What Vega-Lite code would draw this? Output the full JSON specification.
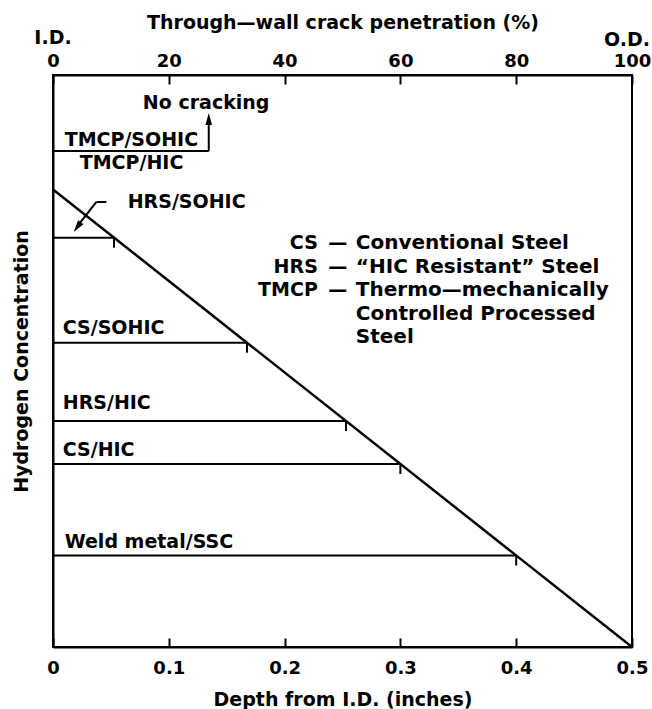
{
  "$schema": "https://vega.github.io/schema/vega-lite/v6.json",
  "width": 579,
  "height": 572,
  "autosize": {"type": "none"},
  "padding": {"left": 53, "top": 75, "right": 20, "bottom": 62},
  "background": "white",
  "config": {
    "view": {"stroke": "black", "strokeWidth": 2},
    "axis": {
      "grid": false,
      "domainColor": "black",
      "domainWidth": 2,
      "tickColor": "black",
      "tickWidth": 2,
      "labelColor": "black",
      "labelFont": "DejaVu Sans",
      "labelFontWeight": "bold",
      "labelFontSize": 18,
      "titleColor": "black",
      "titleFont": "DejaVu Sans",
      "titleFontWeight": "bold",
      "titleFontSize": 19,
      "labelFlush": false,
      "labelOverlap": false
    }
  },
  "datasets": {
    "segs": [
      {"d": 0, "c": 0.8, "d2": 0.5, "c2": 0, "w": 2.5},
      {"d": 0, "c": 0.867, "d2": 0.1345, "c2": 0.867, "w": 2},
      {"d": 0.1345, "c": 0.867, "d2": 0.1345, "c2": 0.915, "w": 2},
      {"d": 0, "c": 0.7156, "d2": 0.0527, "c2": 0.7156, "w": 2},
      {"d": 0.0527, "c": 0.7156, "d2": 0.0527, "c2": 0.698, "w": 2},
      {"d": 0, "c": 0.532, "d2": 0.1675, "c2": 0.532, "w": 2},
      {"d": 0.1675, "c": 0.532, "d2": 0.1675, "c2": 0.5145, "w": 2},
      {"d": 0, "c": 0.395, "d2": 0.253, "c2": 0.395, "w": 2},
      {"d": 0.253, "c": 0.395, "d2": 0.253, "c2": 0.3775, "w": 2},
      {"d": 0, "c": 0.32, "d2": 0.3, "c2": 0.32, "w": 2},
      {"d": 0.3, "c": 0.32, "d2": 0.3, "c2": 0.3025, "w": 2},
      {"d": 0, "c": 0.16, "d2": 0.4, "c2": 0.16, "w": 2},
      {"d": 0.4, "c": 0.16, "d2": 0.4, "c2": 0.1425, "w": 2},
      {"d": 0.0461, "c": 0.778, "d2": 0.0375, "c2": 0.778, "w": 2},
      {"d": 0.0375, "c": 0.778, "d2": 0.0231, "c2": 0.741, "w": 2}
    ],
    "arrows": [
      {"d": 0.1345, "c": 0.923, "ang": 0},
      {"d": 0.0209, "c": 0.734, "ang": 216}
    ],
    "notes": [
      {"d": 0.0776, "c": 0.951, "label": "No cracking"},
      {"d": 0.0101, "c": 0.886, "label": "TMCP/SOHIC"},
      {"d": 0.0231, "c": 0.846, "label": "TMCP/HIC"},
      {"d": 0.0645, "c": 0.778, "label": "HRS/SOHIC"},
      {"d": 0.0084, "c": 0.558, "label": "CS/SOHIC"},
      {"d": 0.0084, "c": 0.427, "label": "HRS/HIC"},
      {"d": 0.0084, "c": 0.344, "label": "CS/HIC"},
      {"d": 0.0101, "c": 0.184, "label": "Weld metal/SSC"}
    ],
    "desc": [
      {"d": 0.2615, "c": 0.706, "label": "Conventional Steel"},
      {"d": 0.2615, "c": 0.665, "label": "“HIC Resistant” Steel"},
      {"d": 0.2615, "c": 0.624, "label": "Thermo—mechanically"},
      {"d": 0.2615, "c": 0.583, "label": "Controlled Processed"},
      {"d": 0.2615, "c": 0.542, "label": "Steel"}
    ],
    "abbr": [
      {"d": 0.2287, "c": 0.706, "label": "CS"},
      {"d": 0.2287, "c": 0.665, "label": "HRS"},
      {"d": 0.2287, "c": 0.624, "label": "TMCP"},
      {"d": 0.5155, "c": 1.061, "label": "O.D."}
    ],
    "centered": [
      {"d": 0.246, "c": 0.706, "label": "—"},
      {"d": 0.246, "c": 0.665, "label": "—"},
      {"d": 0.246, "c": 0.624, "label": "—"},
      {"d": 0, "c": 1.065, "label": "I.D."}
    ]
  },
  "resolve": {"axis": {"x": "independent"}},
  "layer": [
    {
      "data": {"name": "segs"},
      "mark": {"type": "rule", "color": "black"},
      "encoding": {
        "x": {
          "field": "d", "type": "quantitative",
          "scale": {"domain": [0, 0.5], "nice": false, "zero": false},
          "axis": {
            "orient": "bottom",
            "title": "Depth from I.D. (inches)",
            "values": [0, 0.1, 0.2, 0.3, 0.4, 0.5],
            "labelExpr": "datum.value == 0 ? '0' : format(datum.value, '.1f')",
            "tickSize": -9,
            "labelPadding": 21,
            "titlePadding": 13
          }
        },
        "x2": {"field": "d2"},
        "y": {
          "field": "c", "type": "quantitative",
          "scale": {"domain": [0, 1], "nice": false, "zero": false},
          "axis": {
            "title": "Hydrogen Concentration",
            "labels": false,
            "ticks": false,
            "titlePadding": 22
          }
        },
        "y2": {"field": "c2"},
        "strokeWidth": {"field": "w", "type": "quantitative", "scale": null}
      }
    },
    {
      "data": {"name": "arrows"},
      "mark": {"type": "point", "filled": true, "color": "black", "opacity": 1, "size": 144, "shape": "M0,-1L0.55,1L-0.55,1Z", "strokeWidth": 0},
      "encoding": {
        "x": {
          "field": "d", "type": "quantitative",
          "axis": {
            "orient": "top",
            "title": "Through—wall crack penetration (%)",
            "values": [0, 0.1, 0.2, 0.3, 0.4, 0.5],
            "labelExpr": "format(datum.value * 200, 'd')",
            "tickSize": -9,
            "labelPadding": 14,
            "titlePadding": 20
          }
        },
        "y": {"field": "c", "type": "quantitative"},
        "angle": {"field": "ang", "type": "quantitative", "scale": null}
      }
    },
    {
      "data": {"name": "notes"},
      "mark": {"type": "text", "align": "left", "baseline": "middle", "font": "DejaVu Sans", "fontWeight": "bold", "fontSize": 19, "color": "black"},
      "encoding": {
        "x": {"field": "d", "type": "quantitative", "axis": null},
        "y": {"field": "c", "type": "quantitative"},
        "text": {"field": "label"}
      }
    },
    {
      "data": {"name": "desc"},
      "mark": {"type": "text", "align": "left", "baseline": "middle", "font": "DejaVu Sans", "fontWeight": "bold", "fontSize": 20, "color": "black"},
      "encoding": {
        "x": {"field": "d", "type": "quantitative", "axis": null},
        "y": {"field": "c", "type": "quantitative"},
        "text": {"field": "label"}
      }
    },
    {
      "data": {"name": "abbr"},
      "mark": {"type": "text", "align": "right", "baseline": "middle", "font": "DejaVu Sans", "fontWeight": "bold", "fontSize": 19, "color": "black"},
      "encoding": {
        "x": {"field": "d", "type": "quantitative", "axis": null},
        "y": {"field": "c", "type": "quantitative"},
        "text": {"field": "label"}
      }
    },
    {
      "data": {"name": "centered"},
      "mark": {"type": "text", "align": "center", "baseline": "middle", "font": "DejaVu Sans", "fontWeight": "bold", "fontSize": 19, "color": "black"},
      "encoding": {
        "x": {"field": "d", "type": "quantitative", "axis": null},
        "y": {"field": "c", "type": "quantitative"},
        "text": {"field": "label"}
      }
    }
  ]
}
